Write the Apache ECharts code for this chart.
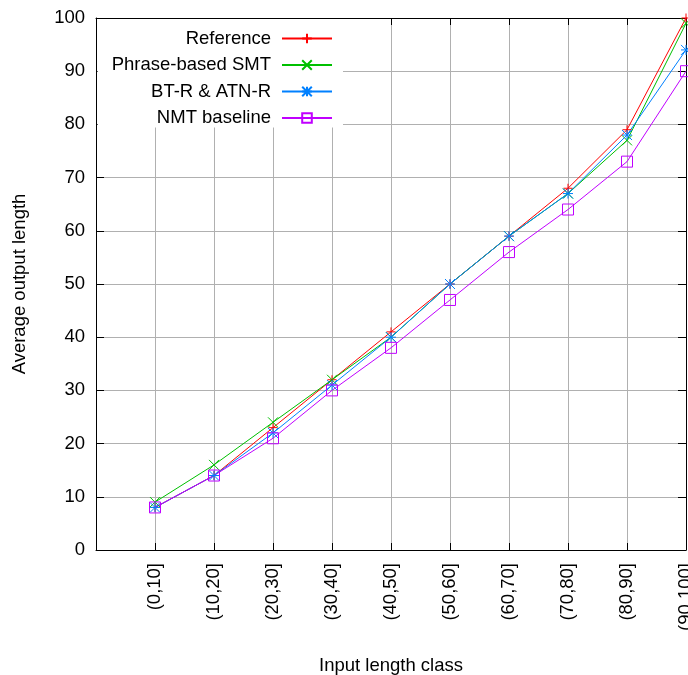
<!DOCTYPE html>
<html>
<head>
<meta charset="utf-8">
<script src="https://cdn.jsdelivr.net/npm/echarts@6/dist/echarts.min.js"></script>
<style>
  html, body { margin: 0; padding: 0; background: #fff; }
  #main { width: 688px; height: 675px; }
</style>
</head>
<body>
<div id="main"></div>
<script>
// input length classes
var categories = ['(0,10]', '(10,20]', '(20,30]', '(30,40]', '(40,50]',
  '(50,60]', '(60,70]', '(70,80]', '(80,90]', '(90,100]'];

// average output length per class
var referenceLen = [8, 14, 23, 32, 41, 50, 59, 68, 79, 100];
var smtLen = [9, 16, 24, 32, 40, 50, 59, 67, 77, 99];
var btrLen = [8, 14, 22, 31, 40, 50, 59, 67, 78, 94];
var nmtLen = [8, 14, 21, 30, 38, 47, 56, 64, 73, 90];

var seriesNames = ['Reference', 'Phrase-based SMT', 'BT-R & ATN-R', 'NMT baseline'];

var chart = echarts.init(document.getElementById('main'));
var font = 'Liberation Sans, Arial, Helvetica, sans-serif';
var fs = 18.5;

// x position 1..10 on a 0..10 value axis, like gnuplot's xtic labels
function toPoints(arr) {
  return arr.map(function (v, i) { return [i + 1, v]; });
}

function line(name, values, color, symbol, size) {
  return {
    name: name,
    type: 'line',
    data: toPoints(values),
    symbol: symbol,
    symbolSize: size,
    showSymbol: true,
    itemStyle: { color: 'rgba(0,0,0,0)', borderColor: color, borderWidth: 1 },
    lineStyle: { color: color, width: 1 },
    emphasis: { disabled: true },
    animation: false,
    z: 3
  };
}

var plusPath = 'path://M0,5L10,5M5,0L5,10';
var crossPath = 'path://M0,0L10,10M10,0L0,10';
var starPath = 'path://M0,5L10,5M5,0L5,10M0,0L10,10M10,0L0,10';
var squarePath = 'path://M0,0L10,0L10,10L0,10Z';

chart.setOption({
  backgroundColor: '#fff',
  animation: false,
  grid: { left: 96, right: 2, top: 18, bottom: 125, outerBoundsMode: 'none' },
  legend: {
    orient: 'vertical',
    align: 'right',
    right: 345,
    top: 19,
    padding: [10, 10, 0, 14],
    backgroundColor: '#fff',
    itemWidth: 50,
    itemHeight: 12,
    itemGap: 7.5,
    data: seriesNames,
    textStyle: { fontFamily: font, fontSize: fs, color: '#000', padding: [0, 6, 0, 0] }
  },
  xAxis: [{
    type: 'value',
    min: 0,
    max: 10,
    interval: 1,
    position: 'bottom',
    name: 'Input length class',
    nameLocation: 'middle',
    nameGap: 106,
    nameTextStyle: { fontFamily: font, fontSize: fs, color: '#000' },
    axisLine: { lineStyle: { color: '#000', width: 1 } },
    axisTick: { inside: true, length: 7, lineStyle: { color: '#000' } },
    axisLabel: {
      rotate: 90,
      margin: 13,
      fontFamily: font,
      fontSize: fs,
      color: '#000',
      formatter: function (v) { return categories[v - 1] || ''; }
    },
    splitLine: { show: true, lineStyle: { color: '#b0b0b0', width: 1 } }
  }, {
    type: 'value',
    min: 0,
    max: 10,
    interval: 1,
    position: 'top',
    axisLine: { show: true, onZero: false, lineStyle: { color: '#000', width: 1 } },
    axisTick: { inside: true, length: 7, lineStyle: { color: '#000' } },
    axisLabel: { show: false },
    splitLine: { show: false }
  }],
  yAxis: [{
    type: 'value',
    min: 0,
    max: 100,
    interval: 10,
    position: 'left',
    name: 'Average output length',
    nameLocation: 'middle',
    nameGap: 67,
    nameTextStyle: { fontFamily: font, fontSize: fs, color: '#000' },
    axisLine: { show: true, lineStyle: { color: '#000', width: 1 } },
    axisTick: { show: true, inside: true, length: 8, lineStyle: { color: '#000' } },
    axisLabel: { margin: 11, fontFamily: font, fontSize: fs, color: '#000' },
    splitLine: { show: true, lineStyle: { color: '#b0b0b0', width: 1 } }
  }, {
    type: 'value',
    min: 0,
    max: 100,
    interval: 10,
    position: 'right',
    axisLine: { show: true, onZero: false, lineStyle: { color: '#000', width: 1 } },
    axisTick: { show: true, inside: true, length: 8, lineStyle: { color: '#000' } },
    axisLabel: { show: false },
    splitLine: { show: false }
  }],
  series: [
    line(seriesNames[0], referenceLen, '#ff0000', plusPath, 9),
    line(seriesNames[1], smtLen, '#00c000', crossPath, 10),
    line(seriesNames[2], btrLen, '#0080ff', starPath, 10),
    line(seriesNames[3], nmtLen, '#c000ff', squarePath, 11)
  ]
});
</script>
</body>
</html>
